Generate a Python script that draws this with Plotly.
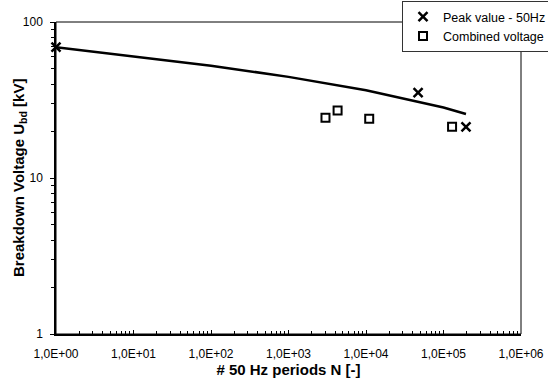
import plotly.graph_objects as go

# ---- data ----
peak_N = [1, 4.7e4, 1.95e5]
peak_U = [69, 35.3, 21.3]

comb_N = [3.0e3, 4.3e3, 1.1e4, 1.29e5]
comb_U = [24.3, 27.1, 24.0, 21.3]

fit_N = [1, 10, 100, 1000, 1e4, 1e5, 1.95e5]
fit_U = [69, 60.5, 52.5, 44.5, 36.5, 28.3, 25.7]

x_tickvals = [1, 10, 100, 1000, 1e4, 1e5, 1e6]
x_ticktext = ["1,0E+00", "1,0E+01", "1,0E+02", "1,0E+03", "1,0E+04", "1,0E+05", "1,0E+06"]
y_tickvals = [1, 10, 100]
y_ticktext = ["1", "10", "100"]

FONT = "Arial, 'Liberation Sans', sans-serif"

fig = go.Figure()
fig.add_trace(go.Scatter(x=fit_N, y=fit_U, mode="lines",
                         line=dict(color="black", width=2.5), showlegend=False,
                         hoverinfo="skip", cliponaxis=False))
fig.add_trace(go.Scatter(x=peak_N, y=peak_U, mode="markers", name="Peak value - 50Hz",
                         cliponaxis=False,
                         marker=dict(symbol="x-thin", size=9, color="black",
                                     line=dict(color="black", width=2.5))))
fig.add_trace(go.Scatter(x=comb_N, y=comb_U, mode="markers", name="Combined voltage",
                         cliponaxis=False,
                         marker=dict(symbol="square-open", size=8, color="black",
                                     line=dict(color="black", width=2))))

fig.update_layout(
    width=548, height=378,
    margin=dict(l=56, r=27, t=22, b=44, autoexpand=False),
    paper_bgcolor="white", plot_bgcolor="white",
    font=dict(family=FONT, size=12, color="black"),
    legend=dict(x=(402 - 56) / 465, xanchor="left", y=(334 - 1) / 312, yanchor="top",
                bgcolor="white", bordercolor="#333333", borderwidth=1,
                font=dict(size=12.5, family=FONT), itemwidth=30,
                tracegroupgap=0),
    shapes=[dict(type="rect", xref="paper", yref="paper", x0=0, x1=1, y0=0, y1=1,
                 line=dict(color="black", width=1), layer="below")],
    annotations=[dict(text="Breakdown Voltage U<sub>bd</sub> [kV]", textangle=-90,
                      xref="paper", yref="paper", x=(19 - 56) / 465, y=0.5,
                      xanchor="center", yanchor="middle", showarrow=False,
                      font=dict(size=15, family=FONT, weight="bold", color="black"))],
)

fig.update_xaxes(
    type="log", range=[0, 6],
    tickmode="array", tickvals=x_tickvals, ticktext=x_ticktext,
    ticks="inside", ticklen=4, tickwidth=1, tickcolor="black",
    showline=True, linecolor="black", linewidth=1.5,
    showgrid=False, zeroline=False, ticklabelstandoff=8,
    minor=dict(dtick="D1", ticks="inside", ticklen=3, tickcolor="black", showgrid=False),
    title=dict(text="# 50 Hz periods N [-]", font=dict(size=15, family=FONT, weight="bold"),
               standoff=0),
)
fig.update_yaxes(
    type="log", range=[0, 2],
    tickmode="array", tickvals=y_tickvals, ticktext=y_ticktext,
    ticks="outside", ticklen=4, tickwidth=1, tickcolor="black",
    showline=True, linecolor="black", linewidth=1.5,
    showgrid=False, zeroline=False, ticklabelstandoff=5,
    minor=dict(dtick="D1", ticks="outside", ticklen=3, tickcolor="black", showgrid=False),
)

fig.write_html("out.html", config={"displayModeBar": False},
               post_script="document.body.style.margin='0';document.body.style.padding='0';")
